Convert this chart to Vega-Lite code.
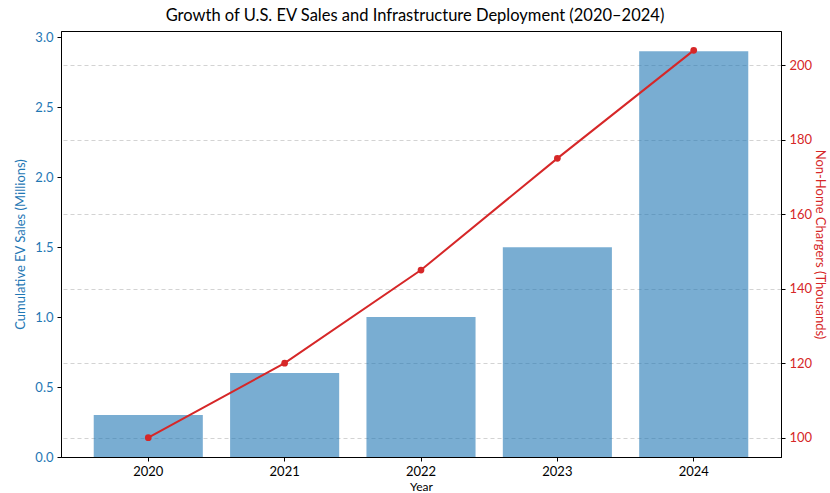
{
  "$schema": "https://vega.github.io/schema/vega-lite/v6.json",
  "width": 720,
  "height": 426,
  "autosize": {"type": "none"},
  "padding": {"left": 61, "top": 31, "right": 49, "bottom": 36},
  "background": "white",
  "title": {
    "text": "Growth of U.S. EV Sales and Infrastructure Deployment (2020–2024)",
    "font": "Lato",
    "fontSize": 16.5,
    "fontWeight": "normal",
    "color": "#000000",
    "anchor": "middle",
    "dx": -6,
    "offset": 7
  },
  "config": {
    "view": {"stroke": "#000000", "strokeWidth": 1},
    "axis": {
      "labelFont": "Lato",
      "titleFont": "Lato",
      "labelFontSize": 13,
      "titleFontSize": 13,
      "titleFontWeight": "normal",
      "tickColor": "#000000",
      "domainColor": "#000000",
      "tickSize": 4,
      "labelPadding": 4
    }
  },
  "data": {
    "values": [
      {"year": "2020", "sales": 0.3, "chargers": 100},
      {"year": "2021", "sales": 0.6, "chargers": 120},
      {"year": "2022", "sales": 1.0, "chargers": 145},
      {"year": "2023", "sales": 1.5, "chargers": 175},
      {"year": "2024", "sales": 2.9, "chargers": 204}
    ]
  },
  "encoding": {
    "x": {
      "field": "year",
      "type": "ordinal",
      "scale": {"paddingInner": 0.2, "paddingOuter": 0.24},
      "axis": {
        "title": "Year",
        "titleFontSize": 12,
        "titleColor": "#000000",
        "labelColor": "#000000",
        "labelAngle": 0,
        "titlePadding": 3,
        "grid": false
      }
    }
  },
  "layer": [
    {
      "mark": {"type": "bar", "color": "#1f77b4", "opacity": 0.6},
      "encoding": {
        "y": {
          "field": "sales",
          "type": "quantitative",
          "scale": {"domain": [0, 3.045], "nice": false},
          "axis": {
            "title": "Cumulative EV Sales (Millions)",
            "titleColor": "#1f77b4",
            "labelColor": "#1f77b4",
            "values": [0, 0.5, 1, 1.5, 2, 2.5, 3],
            "format": ".1f",
            "grid": false,
            "titlePadding": 7
          }
        }
      }
    },
    {
      "mark": {"type": "line", "color": "#d62728", "strokeWidth": 2, "point": {"filled": true, "size": 45, "color": "#d62728"}},
      "encoding": {
        "y": {
          "field": "chargers",
          "type": "quantitative",
          "scale": {"domain": [94.8, 209.2], "nice": false, "zero": false},
          "axis": {
            "orient": "right",
            "title": "Non-Home Chargers (Thousands)",
            "titleColor": "#d62728",
            "labelColor": "#d62728",
            "values": [100, 120, 140, 160, 180, 200],
            "grid": true,
            "gridColor": "#c8c8c8",
            "gridDash": [4, 3],
            "gridWidth": 0.8,
            "titlePadding": 1
          }
        }
      }
    }
  ],
  "resolve": {"scale": {"y": "independent"}}
}
